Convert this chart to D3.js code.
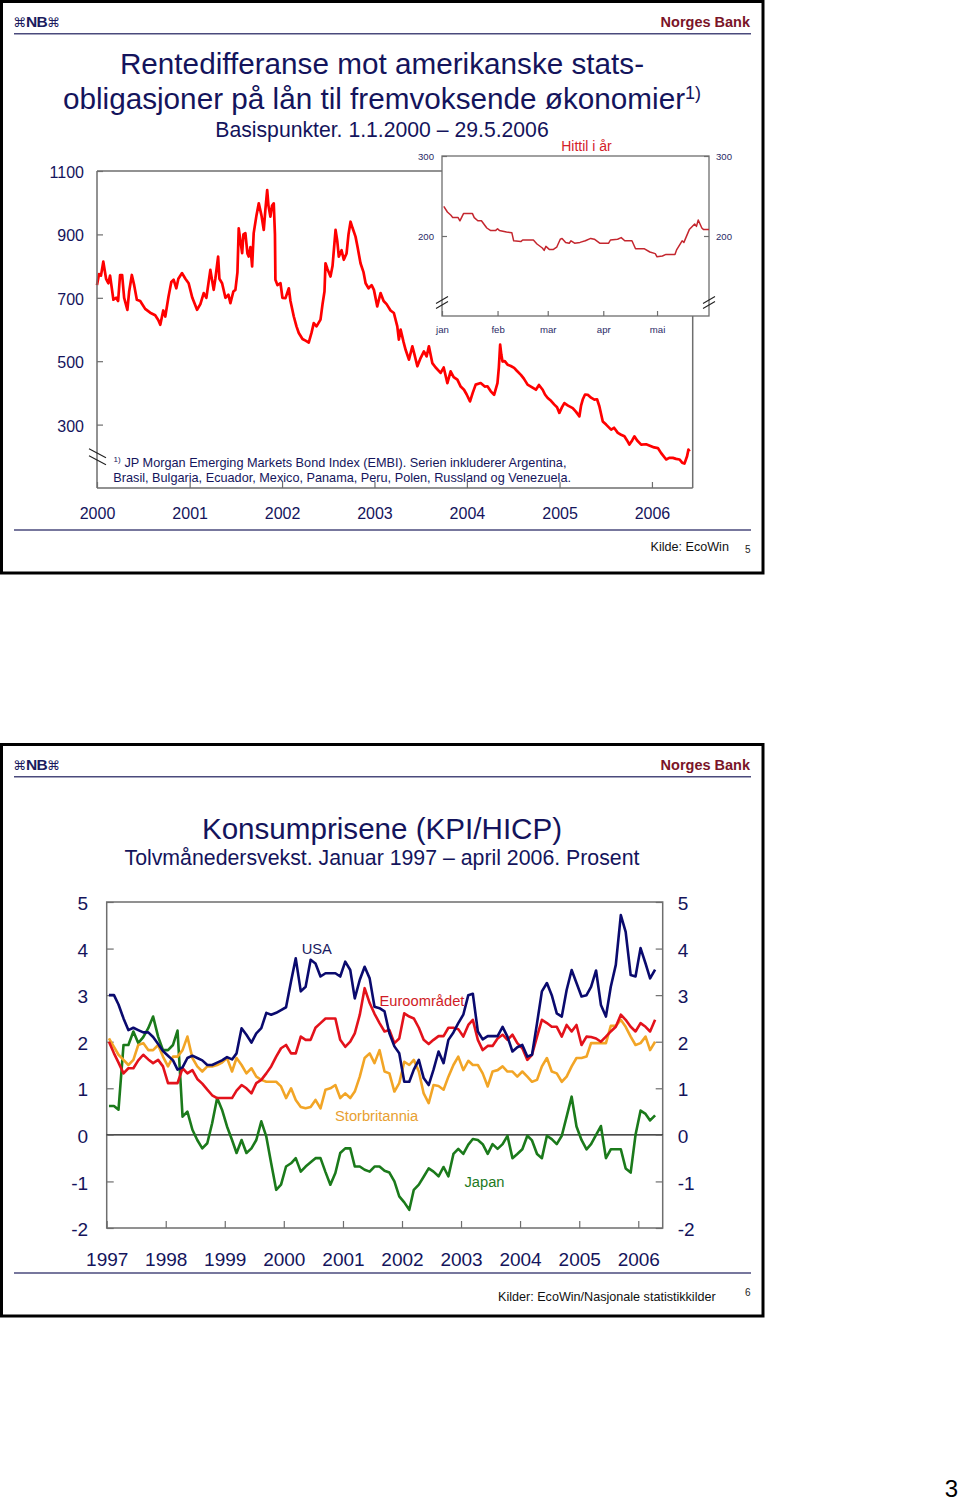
<!DOCTYPE html>
<html><head><meta charset="utf-8">
<script src="https://cdn.jsdelivr.net/npm/d3@7"></script>
<style>
html,body{margin:0;padding:0;background:#fff;}
svg{display:block;}
text{font-family:"Liberation Sans",Arial,Helvetica,sans-serif;}
</style></head><body>
<svg id="page" width="960" height="1501"></svg>
<script>
// ---------- Chart 1: EMBI spread (basis points) ----------
const embiYear = [
2000.000,2000.022,2000.043,2000.068,2000.098,2000.122,2000.141,2000.177,2000.206,2000.228,
2000.249,2000.271,2000.293,2000.328,2000.347,2000.376,2000.401,2000.430,2000.466,2000.520,
2000.574,2000.628,2000.661,2000.683,2000.715,2000.737,2000.772,2000.802,2000.827,2000.856,
2000.878,2000.918,2000.954,2000.989,2001.029,2001.080,2001.116,2001.152,2001.181,2001.224,
2001.260,2001.278,2001.308,2001.322,2001.351,2001.387,2001.419,2001.441,2001.473,2001.495,
2001.517,2001.531,2001.549,2001.568,2001.582,2001.603,2001.625,2001.639,2001.658,2001.676,
2001.693,2001.723,2001.748,2001.777,2001.802,2001.820,2001.839,2001.853,2001.874,2001.891,
2001.910,2001.923,2001.928,2001.950,2001.983,2002.004,2002.037,2002.073,2002.091,2002.127,
2002.156,2002.181,2002.221,2002.254,2002.289,2002.319,2002.343,2002.373,2002.416,2002.438,
2002.459,2002.470,2002.492,2002.524,2002.546,2002.579,2002.597,2002.614,2002.644,2002.668,
2002.698,2002.719,2002.741,2002.763,2002.795,2002.817,2002.849,2002.882,2002.904,2002.936,
2002.969,2002.994,2003.030,2003.066,2003.099,2003.131,2003.174,2003.210,2003.247,2003.264,
2003.283,2003.315,2003.337,2003.373,2003.410,2003.434,2003.464,2003.499,2003.535,2003.564,
2003.589,2003.626,2003.662,2003.716,2003.749,2003.789,2003.824,2003.857,2003.897,2003.933,
2003.969,2003.998,2004.034,2004.063,2004.095,2004.149,2004.193,2004.222,2004.258,2004.294,
2004.330,2004.345,2004.359,2004.372,2004.385,2004.409,2004.439,2004.474,2004.510,2004.539,
2004.583,2004.615,2004.655,2004.691,2004.745,2004.778,2004.818,2004.843,2004.872,2004.908,
2004.944,2004.973,2004.998,2005.027,2005.052,2005.092,2005.143,2005.179,2005.215,2005.233,
2005.251,2005.276,2005.306,2005.341,2005.377,2005.406,2005.431,2005.468,2005.504,2005.558,
2005.590,2005.631,2005.666,2005.702,2005.731,2005.756,2005.786,2005.810,2005.840,2005.883,
2005.937,2005.991,2006.024,2006.064,2006.100,2006.154,2006.187,2006.226,2006.262,2006.298,
2006.327,2006.352,2006.380,2006.395,2006.407];
const embiSpread = [
740,775,770,814,760,746,770,694,700,690,
772,772,700,662,720,772,740,694,690,665,
653,645,630,615,660,641,704,750,757,730,
760,778,760,746,700,662,680,715,700,788,
725,760,830,760,746,700,710,683,720,725,
780,919,880,841,900,904,840,830,860,799,
904,960,998,960,914,980,1040,990,956,990,
998,900,757,740,746,700,699,730,690,641,
610,589,570,565,559,590,620,610,631,680,
720,809,790,767,800,914,880,830,850,820,
840,900,940,920,893,860,809,780,746,730,
740,725,673,715,690,680,660,652,610,568,
600,560,536,505,547,520,484,510,531,515,
547,494,480,463,480,431,468,450,442,420,
410,395,373,400,426,431,420,421,405,394,
431,480,552,520,499,500,489,485,479,470,
457,445,426,420,410,425,410,395,384,375,
363,355,337,355,368,360,352,340,326,360,
379,395,394,385,379,380,358,310,300,284,
290,274,268,263,250,237,250,263,250,237,
238,232,228,226,210,190,195,195,192,190,
180,177,200,221,215];
const embiYTicks = [300,500,700,900,1100];
const embiXTicks = [2000,2001,2002,2003,2004,2005,2006];

// Inset: "Hittil i år" (2006)
const ytdDates = [
"2006-01-02","2006-01-04","2006-01-06","2006-01-07","2006-01-10","2006-01-11","2006-01-13","2006-01-18","2006-01-19","2006-01-21",
"2006-01-23","2006-01-26","2006-01-28","2006-01-31","2006-02-01","2006-02-02","2006-02-06","2006-02-09","2006-02-10","2006-02-14",
"2006-02-15","2006-02-21","2006-02-23","2006-02-26","2006-02-27","2006-02-28","2006-03-02","2006-03-04","2006-03-06","2006-03-08",
"2006-03-09","2006-03-11","2006-03-13","2006-03-14","2006-03-16","2006-03-19","2006-03-22","2006-03-25","2006-03-27","2006-03-30",
"2006-04-04","2006-04-05","2006-04-09","2006-04-11","2006-04-13","2006-04-17","2006-04-19","2006-04-24","2006-04-27","2006-04-30",
"2006-05-01","2006-05-04","2006-05-06","2006-05-11","2006-05-12","2006-05-15","2006-05-16","2006-05-19","2006-05-22","2006-05-23",
"2006-05-24","2006-05-26","2006-05-27","2006-05-30"];
const ytdSpread = [
237,230,226,223,223,219,228,228,223,219,
219,210,207,207,209,207,205,204,194,193,
195,195,190,185,182,187,183,183,186,196,
197,192,191,194,191,192,194,197,196,191,
191,195,196,198,194,194,184,184,180,178,
174,175,177,177,183,194,192,208,215,212,
220,210,208,208];
const ytdYTicks = [200,300];
const ytdMonthLabels = ["jan","feb","mar","apr","mai"];

// ---------- Chart 2: CPI twelve-month growth, Jan 1997 - Apr 2006 ----------
const cpiStart = [1997, 0];   // first observation: January 1997
const cpiUSA = [
3.0,3.0,2.8,2.5,2.25,2.3,2.25,2.2,2.2,2.1,1.95,1.8,
1.7,1.6,1.4,1.45,1.65,1.7,1.65,1.6,1.5,1.5,1.55,1.6,
1.67,1.62,1.75,2.29,2.15,1.98,2.18,2.29,2.62,2.58,2.62,2.68,
2.74,3.3,3.79,3.08,3.18,3.76,3.68,3.4,3.47,3.47,3.47,3.4,
3.72,3.54,2.93,3.33,3.61,3.36,2.75,2.72,2.65,2.18,1.9,1.75,
1.14,1.14,1.4,1.61,1.22,1.07,1.4,1.79,1.54,2.04,2.2,2.4,
2.58,3.0,3.03,2.22,2.05,2.12,2.12,2.12,2.32,2.11,1.79,1.88,
1.93,1.68,1.72,2.4,3.08,3.26,3.0,2.61,2.54,3.11,3.54,3.26,
2.97,3.0,3.18,3.53,2.79,2.54,3.18,3.65,4.72,4.36,3.43,3.4,
4.01,3.68,3.36,3.55];
const cpiEuro = [
2.0,1.75,1.55,1.32,1.43,1.43,1.6,1.72,1.62,1.54,1.61,1.47,
1.11,1.11,1.11,1.43,1.32,1.39,1.2,1.1,0.97,0.85,0.79,0.79,
0.79,0.79,0.95,1.07,1.0,0.89,1.11,1.18,1.32,1.47,1.68,1.86,
1.93,1.75,1.75,2.11,2.04,2.04,2.3,2.4,2.5,2.5,2.5,2.04,
1.89,2.0,2.18,2.58,3.15,2.83,2.6,2.4,2.22,2.25,1.97,2.07,
2.61,2.54,2.5,2.3,2.04,1.95,2.04,2.12,2.12,2.3,2.3,2.27,
2.11,2.36,2.47,2.04,1.82,1.91,1.91,2.07,2.15,2.04,2.15,1.97,
1.86,1.61,1.72,2.11,2.47,2.4,2.32,2.32,2.11,2.36,2.22,2.36,
1.93,2.11,2.1,2.07,2.0,2.11,2.22,2.32,2.58,2.47,2.32,2.22,
2.4,2.32,2.22,2.47];
const cpiUK = [
2.07,1.89,1.72,1.61,1.5,1.61,1.93,1.97,1.82,1.82,1.93,1.68,
1.47,1.68,1.68,1.82,2.11,1.65,1.47,1.36,1.47,1.47,1.5,1.55,
1.65,1.36,1.65,1.5,1.32,1.43,1.25,1.18,1.14,1.14,1.14,1.04,
0.79,1.0,0.75,0.6,0.57,0.6,0.75,0.57,0.97,1.0,1.07,0.79,
0.89,0.79,0.93,1.25,1.65,1.75,1.54,1.82,1.36,1.32,0.93,1.11,
1.57,1.5,1.61,1.36,0.89,0.68,1.07,1.05,0.97,1.25,1.5,1.68,
1.39,1.59,1.5,1.5,1.32,1.04,1.36,1.39,1.47,1.36,1.36,1.25,
1.36,1.25,1.14,1.18,1.47,1.65,1.36,1.32,1.14,1.25,1.47,1.65,
1.65,1.68,1.97,1.97,1.97,1.97,2.34,2.34,2.47,2.32,2.11,1.93,
1.97,2.11,1.82,2.0];
const cpiJapan = [
0.62,0.62,0.54,1.93,1.93,2.22,1.97,2.1,2.29,2.54,2.11,1.82,
1.82,1.93,2.24,0.39,0.5,0.11,-0.11,-0.29,-0.18,0.25,0.79,0.54,
0.18,-0.11,-0.39,-0.11,-0.39,-0.29,-0.11,0.29,-0.04,-0.61,-1.18,-1.07,
-0.68,-0.61,-0.5,-0.79,-0.68,-0.59,-0.5,-0.5,-0.8,-1.07,-0.82,-0.39,
-0.29,-0.29,-0.68,-0.68,-0.75,-0.79,-0.68,-0.68,-0.77,-0.81,-1.0,-1.32,
-1.45,-1.61,-1.18,-1.07,-0.9,-0.72,-0.79,-0.89,-0.69,-0.89,-0.41,-0.3,
-0.41,-0.21,-0.09,-0.11,-0.2,-0.41,-0.2,-0.3,-0.2,-0.02,-0.5,-0.41,
-0.31,-0.02,-0.12,-0.41,-0.5,-0.02,-0.09,-0.2,-0.02,0.39,0.82,0.18,
-0.11,-0.31,-0.2,0.0,0.19,-0.5,-0.31,-0.31,-0.31,-0.72,-0.81,0.0,
0.52,0.45,0.31,0.42];
const cpiYTicks = [-2,-1,0,1,2,3,4,5];
const cpiXTicks = [1997,1998,1999,2000,2001,2002,2003,2004,2005,2006];

// ---------- drawing ----------
const svg = d3.select("#page");
svg.append("rect").attr("width",960).attr("height",1501).attr("fill","#fff");
const NAVY = "#14145c", AX = "#6e6e6e";
const FONT = "'Liberation Sans', Arial, Helvetica, sans-serif";
const plainNum = d => String(d);

function decYear(t){
  const y = Math.floor(t), a = new Date(y,0,1), b = new Date(y+1,0,1);
  return new Date(+a + (t - y) * (b - a));
}
function styleAxis(g, size, color, dy){
  g.attr("font-family", FONT).attr("font-size", size);
  g.select(".domain").remove();
  g.selectAll(".tick line").attr("stroke", AX).attr("stroke-width", 1.2);
  g.selectAll(".tick text").attr("fill", color);
  if (dy) g.selectAll(".tick text").attr("dy", dy);
}
function slide(oy, srcText, srcX, srcY, pageNo, pageY){
  svg.append("rect").attr("x",1.5).attr("y",oy+1.5).attr("width",761.5).attr("height",571.5)
     .attr("fill","none").attr("stroke","#000").attr("stroke-width",3);
  const logo = svg.append("text").attr("x",13).attr("y",oy+27).attr("fill","#1c1c5e");
  logo.append("tspan").attr("font-family","DejaVu Sans").attr("font-size",13).text("⌘");
  logo.append("tspan").attr("font-weight","bold").attr("font-size",15.5).attr("letter-spacing",-0.8).text("NB");
  logo.append("tspan").attr("font-family","DejaVu Sans").attr("font-size",13).text("⌘");
  svg.append("text").attr("x",750).attr("y",oy+26.5).attr("text-anchor","end")
     .attr("font-weight","bold").attr("font-size",14.5).attr("fill","#7a1428").text("Norges Bank");
  svg.append("line").attr("x1",14).attr("x2",751).attr("y1",oy+33.8).attr("y2",oy+33.8)
     .attr("stroke","#4a4a7c").attr("stroke-width",1.6);
  svg.append("line").attr("x1",14).attr("x2",751).attr("y1",oy+530).attr("y2",oy+530)
     .attr("stroke","#4a4a7c").attr("stroke-width",1.6);
  svg.append("text").attr("x",srcX).attr("y",srcY).attr("font-size",12.6).attr("fill","#111").text(srcText);
  svg.append("text").attr("x",745).attr("y",pageY).attr("font-size",10).attr("fill","#222").text(pageNo);
}

slide(0, "Kilde: EcoWin", 650.5, 550.5, "5", 552.5);
slide(743, "Kilder: EcoWin/Nasjonale statistikkilder", 498, 1301, "6", 1295.5);

// ---- Slide 1 titles ----
svg.append("text").attr("x",382).attr("y",73.5).attr("text-anchor","middle").attr("font-size",29.7)
   .attr("fill",NAVY).text("Rentedifferanse mot amerikanske stats-");
const t2 = svg.append("text").attr("x",382).attr("y",108.5).attr("text-anchor","middle").attr("font-size",29.7).attr("fill",NAVY);
t2.append("tspan").text("obligasjoner på lån til fremvoksende økonomier");
t2.append("tspan").attr("font-size",18).attr("dy",-10).text("1)");
svg.append("text").attr("x",382).attr("y",137).attr("text-anchor","middle").attr("font-size",21.2)
   .attr("fill",NAVY).text("Basispunkter. 1.1.2000 – 29.5.2006");

// ---- Main EMBI chart ----
const x1 = d3.scaleTime().domain([new Date(2000,0,1), new Date(2006,5,11)]).range([97,692.7]);
const y1 = d3.scaleLinear().domain([100,1100]).range([488,171]);
const xIn = d3.scaleTime().domain([new Date(2006,0,1), new Date(2006,4,30)]).range([442,709]);
const yIn = d3.scaleLinear().domain([100,300]).range([316,156]);

const embi = embiYear.map((t,i)=>({d:decYear(t), v:embiSpread[i]}));
svg.append("path").datum(embi).attr("fill","none").attr("stroke","#ff0000").attr("stroke-width",2.7)
   .attr("stroke-linejoin","round")
   .attr("d", d3.line().x(d=>x1(d.d)).y(d=>y1(d.v)));

// frame
const fr = svg.append("g").attr("stroke",AX).attr("stroke-width",1.5).attr("fill","none");
fr.append("line").attr("x1",x1.range()[0]).attr("x2",x1.range()[0]).attr("y1",y1.range()[1]).attr("y2",y1.range()[0]);
fr.append("line").attr("x1",x1.range()[0]).attr("x2",x1.range()[1]).attr("y1",y1.range()[0]).attr("y2",y1.range()[0]);
fr.append("line").attr("x1",x1.range()[0]).attr("x2",xIn.range()[0]).attr("y1",y1.range()[1]).attr("y2",y1.range()[1]);
fr.append("line").attr("x1",x1.range()[1]).attr("x2",x1.range()[1]).attr("y1",yIn.range()[0]).attr("y2",y1.range()[0]);

const gL1 = svg.append("g").attr("transform",`translate(${x1.range()[0]},0)`)
  .call(d3.axisLeft(y1).tickValues(embiYTicks).tickSize(-6).tickPadding(13).tickFormat(plainNum));
styleAxis(gL1, 16, NAVY, "0.4em");
const gB1 = svg.append("g").attr("transform",`translate(0,${y1.range()[0]})`)
  .call(d3.axisBottom(x1).tickValues(embiXTicks.map(y=>new Date(y,0,1))).tickSize(-6).tickPadding(20).tickFormat(d3.timeFormat("%Y")));
styleAxis(gB1, 16, NAVY);

// axis break marks (main, at 200)
const brk = svg.append("g").attr("stroke","#222").attr("stroke-width",1.1);
[-3, 4].forEach(o=>{
  brk.append("line").attr("x1",x1.range()[0]-8).attr("x2",x1.range()[0]+9)
     .attr("y1",y1(200)+o-4.5).attr("y2",y1(200)+o+4.5);
});

// footnote
svg.append("text").attr("x",113.5).attr("y",462).attr("font-size",8).attr("fill",NAVY).text("1)");
svg.append("text").attr("x",124.5).attr("y",467).attr("font-size",12.7).attr("fill",NAVY)
   .text("JP Morgan Emerging Markets Bond Index (EMBI). Serien inkluderer Argentina,");
svg.append("text").attr("x",113.3).attr("y",482).attr("font-size",12.7).attr("fill",NAVY)
   .text("Brasil, Bulgaria, Ecuador, Mexico, Panama, Peru, Polen, Russland og Venezuela.");

// ---- Inset ----
svg.append("rect").attr("x",xIn.range()[0]).attr("y",yIn.range()[1])
   .attr("width",xIn.range()[1]-xIn.range()[0]).attr("height",yIn.range()[0]-yIn.range()[1])
   .attr("fill","#fff").attr("stroke",AX).attr("stroke-width",1.3);
const ytd = ytdDates.map((s,i)=>({d:d3.timeParse("%Y-%m-%d")(s), v:ytdSpread[i]}));
svg.append("path").datum(ytd).attr("fill","none").attr("stroke","#c4262e").attr("stroke-width",1.5)
   .attr("stroke-linejoin","round")
   .attr("d", d3.line().x(d=>xIn(d.d)).y(d=>yIn(d.v)));
const gLi = svg.append("g").attr("transform",`translate(${xIn.range()[0]},0)`)
  .call(d3.axisLeft(yIn).tickValues(ytdYTicks).tickSize(-5).tickPadding(8));
styleAxis(gLi, 9.6, "#2a2a66", "0.36em");
const gRi = svg.append("g").attr("transform",`translate(${xIn.range()[1]},0)`)
  .call(d3.axisRight(yIn).tickValues(ytdYTicks).tickSize(-5).tickPadding(7));
styleAxis(gRi, 9.6, "#2a2a66", "0.36em");
const gBi = svg.append("g").attr("transform",`translate(0,${yIn.range()[0]})`)
  .call(d3.axisBottom(xIn).tickValues(ytdMonthLabels.map((m,i)=>new Date(2006,i,1))).tickSize(-5).tickPadding(10)
  .tickFormat((d)=>ytdMonthLabels[d.getMonth()]));
styleAxis(gBi, 9.6, "#2a2a66");
const brk2 = svg.append("g").attr("stroke","#222").attr("stroke-width",1.1);
[xIn.range()[0], xIn.range()[1]].forEach(xx=>{
  [-2.5, 2.5].forEach(o=>{
    brk2.append("line").attr("x1",xx-6).attr("x2",xx+6)
      .attr("y1",yIn(117)+o+3.5).attr("y2",yIn(117)+o-3.5);
  });
});
svg.append("text").attr("x",586.5).attr("y",150.5).attr("text-anchor","middle").attr("font-size",14)
   .attr("fill","#d42028").text("Hittil i år");

// ---- Slide 2 titles ----
svg.append("text").attr("x",382).attr("y",838.5).attr("text-anchor","middle").attr("font-size",29.6)
   .attr("fill",NAVY).text("Konsumprisene (KPI/HICP)");
svg.append("text").attr("x",382).attr("y",864.5).attr("text-anchor","middle").attr("font-size",21.3)
   .attr("fill",NAVY).text("Tolvmånedersvekst. Januar 1997 – april 2006. Prosent");

// ---- CPI chart ----
const x2 = d3.scaleTime().domain([new Date(1997,0,1), new Date(2006,5,1)]).range([106.7,662.7]);
const y2 = d3.scaleLinear().domain([-2,5]).range([1228,902]);
svg.append("rect").attr("x",x2.range()[0]).attr("y",y2.range()[1])
   .attr("width",x2.range()[1]-x2.range()[0]).attr("height",y2.range()[0]-y2.range()[1])
   .attr("fill","none").attr("stroke",AX).attr("stroke-width",1.5);
svg.append("line").attr("x1",x2.range()[0]).attr("x2",x2.range()[1]).attr("y1",y2(0)).attr("y2",y2(0))
   .attr("stroke","#111").attr("stroke-width",1.1);

const gL2 = svg.append("g").attr("transform",`translate(${x2.range()[0]},0)`)
  .call(d3.axisLeft(y2).tickValues(cpiYTicks).tickSize(-7).tickPadding(18.5).tickFormat(plainNum));
styleAxis(gL2, 19, NAVY, "0.4em");
const gR2 = svg.append("g").attr("transform",`translate(${x2.range()[1]},0)`)
  .call(d3.axisRight(y2).tickValues(cpiYTicks).tickSize(-7).tickPadding(15).tickFormat(plainNum));
styleAxis(gR2, 19, NAVY, "0.4em");
const gB2 = svg.append("g").attr("transform",`translate(0,${y2.range()[0]})`)
  .call(d3.axisBottom(x2).tickValues(cpiXTicks.map(y=>new Date(y,0,1))).tickSize(-7).tickPadding(24.5).tickFormat(d3.timeFormat("%Y")));
styleAxis(gB2, 19, NAVY);

const cpiLine = d3.line().x((d,i)=>x2(new Date(cpiStart[0], cpiStart[1]+i, 15))).y(d=>y2(d));
const series = [
  {v:cpiJapan, c:"#1b7a1b"},
  {v:cpiUK, c:"#f2a526"},
  {v:cpiEuro, c:"#e3121b"},
  {v:cpiUSA, c:"#0a0a6e"}
];
series.forEach(s=>{
  svg.append("path").datum(s.v).attr("fill","none").attr("stroke",s.c).attr("stroke-width",2.6)
     .attr("stroke-linejoin","round").attr("d",cpiLine);
});
const labs = [
  {t:"USA", x:301.7, y:954, c:"#1a1a60"},
  {t:"Euroområdet", x:379.5, y:1006, c:"#d01c26"},
  {t:"Storbritannia", x:335, y:1121, c:"#e8a030"},
  {t:"Japan", x:464.5, y:1186.5, c:"#1e7a1e"}
];
labs.forEach(l=>svg.append("text").attr("x",l.x).attr("y",l.y).attr("font-size",14.7).attr("fill",l.c).text(l.t));

// page number
svg.append("text").attr("x",958).attr("y",1497).attr("text-anchor","end")
   .attr("font-family","'Liberation Serif', 'Times New Roman', serif").attr("font-size",24).attr("fill","#000").text("3");
</script>
</body></html>
